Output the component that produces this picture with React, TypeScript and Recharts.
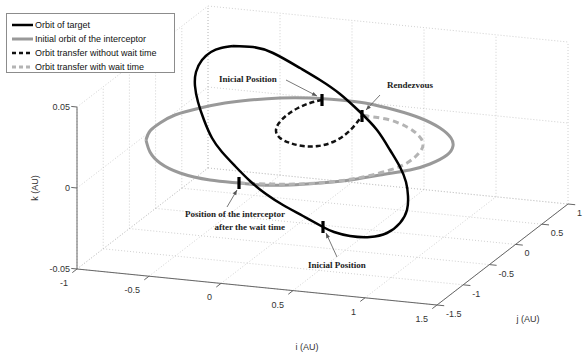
import { ComposedChart, Line, Scatter, XAxis, YAxis } from "recharts";

const W = 584;
const H = 358;

// axis ticks (AU)
const iTicks = [-1, -0.5, 0, 0.5, 1, 1.5];
const jTicks = [-1.5, -1, -0.5, 0, 0.5, 1];
const kTicks = [-0.05, 0, 0.05];

// orbit traces in the view plane (u to the right, v downwards)
const targetOrbit: [number, number][] = [
  [233, 46], [253, 47], [273, 53], [300, 68], [320, 80], [340, 94], [360, 112],
  [377, 130], [390, 150], [400, 167], [406, 182], [408, 196], [407, 210], [400, 223],
  [387, 233], [370, 237], [350, 236], [334, 232], [323, 227], [303, 216], [283, 205],
  [266, 194], [250, 181], [235, 166], [222, 152], [212, 138], [204, 120], [198, 102],
  [195, 86], [196, 72], [202, 60], [211, 52], [221, 48], [233, 46],
];
const interceptorOrbit: [number, number][] = [
  [146, 140], [150, 131], [160, 123], [175, 115], [200, 108], [225, 103], [250, 100],
  [280, 98], [310, 98], [340, 100], [365, 103], [395, 110], [420, 118], [440, 128],
  [451, 138], [453, 146], [447, 155], [430, 164], [410, 170], [380, 175], [350, 180],
  [320, 183], [290, 185], [260, 185], [239, 183], [210, 180], [180, 173], [160, 163],
  [150, 152], [146, 140],
];
const transferDirect: [number, number][] = [
  [322, 100], [310, 103], [298, 108], [287, 115], [279, 123], [276, 131], [280, 138],
  [290, 143], [303, 146], [318, 146], [333, 142], [346, 134], [355, 125], [362, 116],
];
const transferWait: [number, number][] = [
  [239, 183], [270, 184], [297, 184], [330, 182], [363, 177], [390, 170], [407, 163],
  [419, 153], [423, 143], [417, 134], [407, 127], [390, 120], [373, 117], [362, 115],
];

// event markers on the orbits
const markerPoints: [number, number][] = [[322, 100], [362, 116], [239, 183], [323, 227]];
const calloutText = [
  ["Inicial Position"],
  ["Rendezvous"],
  ["Position of the interceptor", "after the wait time"],
  ["Inicial Position"],
];

const legendItems = [
  { name: "Orbit of target", color: "#000", dash: "", width: 2.5 },
  { name: "Initial orbit of the interceptor", color: "#999", dash: "", width: 3 },
  { name: "Orbit transfer without wait time", color: "#111", dash: "4 3", width: 2.5 },
  { name: "Orbit transfer with wait time", color: "#b4b4b4", dash: "4 3", width: 3 },
];

// text/arrow placement around each marker
const calloutLayout = [
  { dx: -74, dy: -21, anchor: "middle", from: [-36, -20], to: [-5, -4] },
  { dx: 48, dy: -31, anchor: "middle", from: [18, -21], to: [4, -6] },
  { dx: 46, dy: 31, anchor: "end", from: [-12, 24], to: [-2, 7] },
  { dx: 14, dy: 38, anchor: "middle", from: [14, 30], to: [3, 6] },
];

// oblique projection of the (i, j, k) box onto the view plane
const iMin = iTicks[0], iMax = iTicks[iTicks.length - 1];
const jMin = jTicks[0], jMax = jTicks[jTicks.length - 1];
const kMin = kTicks[0], kMax = kTicks[kTicks.length - 1];
const view = { u0: 77, v0: 269, iu: 144, iv: 14.4, ju: 52.4, jv: -40.4, kv: -1620 };
const project = (i: number, j: number, k: number) => ({
  u: view.u0 + (i - iMin) * view.iu + (j - jMin) * view.ju,
  v: view.v0 + (i - iMin) * view.iv + (j - jMin) * view.jv + (k - kMin) * view.kv,
});

type Pt = { u: number; v: number };
const toPts = (a: [number, number][]): Pt[] => a.map(([u, v]) => ({ u, v }));

const gridSegs: Pt[][] = [
  ...iTicks.map((i) => [project(i, jMin, kMin), project(i, jMax, kMin)]),
  ...jTicks.map((j) => [project(iMin, j, kMin), project(iMax, j, kMin)]),
  ...jTicks.map((j) => [project(iMin, j, kMin), project(iMin, j, kMax)]),
  ...kTicks.map((k) => [project(iMin, jMin, k), project(iMin, jMax, k)]),
  ...iTicks.map((i) => [project(i, jMax, kMin), project(i, jMax, kMax)]),
  ...kTicks.map((k) => [project(iMin, jMax, k), project(iMax, jMax, k)]),
];
const axisSegs: Pt[][] = [
  [project(iMin, jMin, kMin), project(iMax, jMin, kMin)],
  [project(iMax, jMin, kMin), project(iMax, jMax, kMin)],
  [project(iMin, jMin, kMin), project(iMin, jMin, kMax)],
  ...iTicks.map((i) => [project(i, jMin, kMin), project(i, jMin - 0.09, kMin)]),
  ...jTicks.map((j) => [project(iMax, j, kMin), project(iMax + 0.05, j, kMin)]),
  ...kTicks.map((k) => [project(iMin, jMin, k), project(iMin - 0.04, jMin, k)]),
];

const tickFont = { fontFamily: "Liberation Sans, Arial, sans-serif", fontSize: 9, fill: "#333" };
const noteFont = { fontFamily: "Liberation Serif, Times New Roman, serif", fontSize: 9, fontWeight: 700, fill: "#222" };

const tickLabel = (dx: number, dy: number, anchor: string) => (p: any) => (
  <text x={p.cx + dx} y={p.cy + dy} textAnchor={anchor} dominantBaseline="central" {...tickFont}>
    {p.payload.text}
  </text>
);

const Callout = (p: any) => {
  const id = p.payload.id;
  const lay = calloutLayout[id];
  const [fx, fy] = [p.cx + lay.from[0], p.cy + lay.from[1]];
  const [tx, ty] = [p.cx + lay.to[0], p.cy + lay.to[1]];
  const a = Math.atan2(ty - fy, tx - fx);
  const head = [
    [tx, ty],
    [tx - 5 * Math.cos(a) + 2 * Math.sin(a), ty - 5 * Math.sin(a) - 2 * Math.cos(a)],
    [tx - 5 * Math.cos(a) - 2 * Math.sin(a), ty - 5 * Math.sin(a) + 2 * Math.cos(a)],
  ];
  return (
    <g>
      <line x1={fx} y1={fy} x2={tx} y2={ty} stroke="#555" strokeWidth={0.8} />
      <polygon points={head.map((h) => h.join(",")).join(" ")} fill="#555" />
      {calloutText[id].map((t, n) => (
        <text key={n} x={p.cx + lay.dx} y={p.cy + lay.dy + n * 13} textAnchor={lay.anchor}
          dominantBaseline="central" {...noteFont}>{t}</text>
      ))}
      <rect x={p.cx - 1.6} y={p.cy - 6} width={3.2} height={12} fill="#000" />
    </g>
  );
};

export default function App() {
  const seg = (pts: Pt[], key: string, stroke: string, width: number, dash?: string) => (
    <Line key={key} data={pts} dataKey="v" type="linear" stroke={stroke} strokeWidth={width}
      strokeDasharray={dash} dot={false} activeDot={false} isAnimationActive={false} legendType="none" />
  );
  const orbit = (pts: [number, number][], stroke: string, width: number, dash?: string) => (
    <Line data={toPts(pts)} dataKey="v" type="natural" stroke={stroke} strokeWidth={width}
      strokeDasharray={dash} dot={false} activeDot={false} isAnimationActive={false} />
  );

  return (
    <div style={{ position: "absolute", left: 0, top: 0, width: W, height: H, background: "#fff" }}>
      <ComposedChart width={W} height={H} margin={{ top: 0, right: 0, bottom: 0, left: 0 }}>
        <XAxis type="number" dataKey="u" domain={[0, W]} hide allowDataOverflow />
        <YAxis type="number" dataKey="v" domain={[0, H]} reversed hide allowDataOverflow />
        {gridSegs.map((s, n) => seg(s, `g${n}`, "#c4c4c4", 0.8, "1 2"))}
        {axisSegs.map((s, n) => seg(s, `a${n}`, "#666", 1))}
        {orbit(interceptorOrbit, "#999", 3)}
        {orbit(transferWait, "#b4b4b4", 3, "6 4")}
        {orbit(transferDirect, "#111", 2.5, "5 3")}
        {orbit(targetOrbit, "#000", 2.5)}
        <Scatter data={iTicks.map((i) => ({ ...project(i, jMin, kMin), text: String(i) }))}
          shape={tickLabel(-9, 14, "end")} isAnimationActive={false} />
        <Scatter data={jTicks.map((j) => ({ ...project(iMax, j, kMin), text: String(j) }))}
          shape={tickLabel(9, 9, "start")} isAnimationActive={false} />
        <Scatter data={kTicks.map((k) => ({ ...project(iMin, jMin, k), text: String(k) }))}
          shape={tickLabel(-7, 0, "end")} isAnimationActive={false} />
        <Scatter data={markerPoints.map(([u, v], id) => ({ u, v, id }))} shape={Callout}
          isAnimationActive={false} />
      </ComposedChart>
      <div style={{ position: "absolute", left: 0, top: 0, pointerEvents: "none" }}>
        <div style={{ position: "absolute", left: 307, top: 347, transform: "translate(-50%,-50%)", ...labelCss }}>i (AU)</div>
        <div style={{ position: "absolute", left: 528, top: 319, transform: "translate(-50%,-50%)", ...labelCss }}>j (AU)</div>
        <div style={{ position: "absolute", left: 35, top: 188, transform: "translate(-50%,-50%) rotate(-90deg)", ...labelCss }}>k (AU)</div>
      </div>
      <div style={{
        position: "absolute", left: 6, top: 13, width: 169, height: 60, border: "1px solid #8c8c8c",
        background: "#fff", padding: "4px 0 0 5px", boxSizing: "border-box",
      }}>
        {legendItems.map((it) => (
          <div key={it.name} style={{ display: "flex", alignItems: "center", height: 14 }}>
            <svg width={21} height={6} style={{ marginRight: 2 }}>
              <line x1={0} y1={3} x2={21} y2={3} stroke={it.color} strokeWidth={it.width} strokeDasharray={it.dash} />
            </svg>
            <span style={{ ...labelCss, color: "#111" }}>{it.name}</span>
          </div>
        ))}
      </div>
    </div>
  );
}

const labelCss = {
  fontFamily: "Liberation Sans, Arial, sans-serif", fontSize: 9, color: "#333", whiteSpace: "nowrap" as const, lineHeight: "10px",
};
